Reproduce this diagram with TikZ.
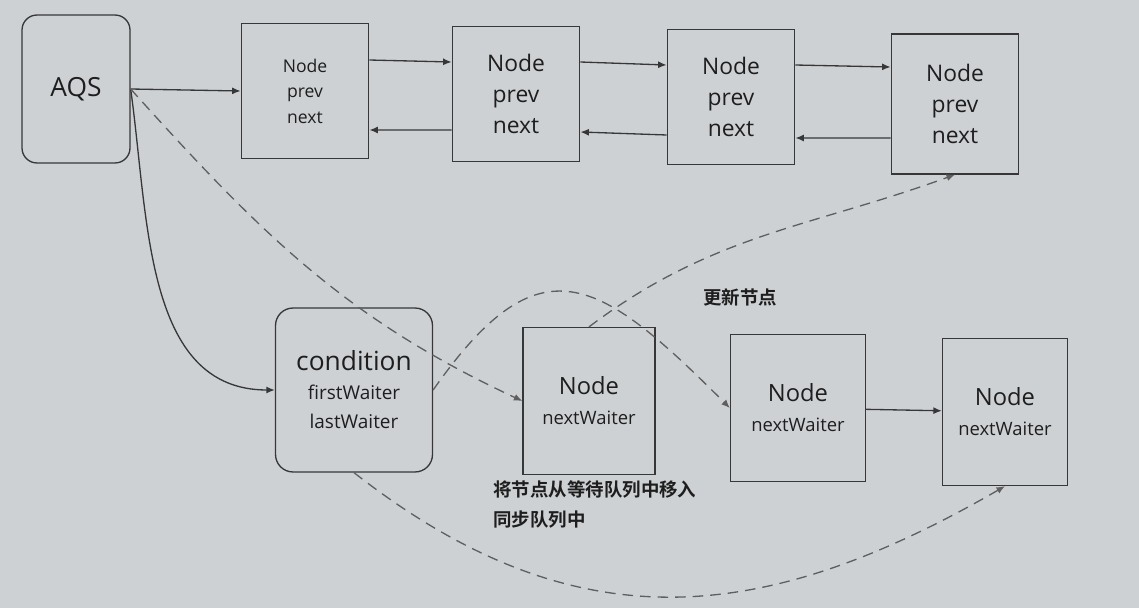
\documentclass[tikz,border=0pt]{standalone}
\usepackage{fontspec}
\setmainfont{Open Sans}
\newfontfamily\cjk[BoldFont={Noto Sans CJK SC Bold}]{Noto Sans CJK SC}
\usetikzlibrary{positioning, arrows.meta, calc}

\definecolor{bgcol}{RGB}{206,209,212}
\definecolor{linecol}{RGB}{55,55,55}
\definecolor{dashcol}{RGB}{95,95,95}
\definecolor{txtcol}{RGB}{30,30,30}

\begin{document}
\begin{tikzpicture}[
    x=0.02cm, y=0.02cm,
    >={Latex[length=1.7mm, width=1.4mm]},
    line width=0.75pt,
    headbox/.style={draw=linecol, rounded corners=3mm, minimum width=2.16cm, minimum height=2.96cm, align=center, text=txtcol, font=\fontsize{15}{18}\selectfont},
    qbox/.style={draw=linecol, minimum width=2.55cm, minimum height=2.7cm, align=center, text=txtcol, inner sep=2pt},
    condbox/.style={draw=linecol, rounded corners=3.5mm, minimum width=3.14cm, minimum height=3.28cm, align=center, text=txtcol, font=\fontsize{10.8}{16.5}\selectfont},
    wbox/.style={draw=linecol, minimum width=2.64cm, minimum height=2.94cm, align=center, text=txtcol, font=\fontsize{10.5}{17}\selectfont},
    note/.style={text=txtcol, font=\cjk\bfseries\fontsize{10.5}{17}\selectfont, inner sep=1pt},
    dashedge/.style={draw=dashcol, dash pattern=on 6pt off 4pt}
]

% ================= Background =================
\fill[bgcol] (0,0) rectangle (1139,-608);
\useasboundingbox (0,0) rectangle (1139,-608);

% ================= Nodes =================

% Head and the synchronisation queue
\node[headbox] (aqs) at (76,-89) {AQS};
\node[qbox, font=\fontsize{10}{14.5}\selectfont] (n1) at (305,-91) {Node\\prev\\next};
\node[qbox, font=\fontsize{13}{17.5}\selectfont] (n2) at (516,-94) {Node\\prev\\next};
\node[qbox, font=\fontsize{13}{17.5}\selectfont] (n3) at (731,-97) {Node\\prev\\next};
\node[qbox, font=\fontsize{13}{17.5}\selectfont, minimum height=2.8cm] (n4) at (955,-104) {Node\\prev\\next};

% Condition and the waiting queue
\node[condbox] (cond) at (354,-390) {{\fontsize{15}{18}\selectfont condition}\\firstWaiter\\lastWaiter};
\node[wbox] (w1) at (589,-401) {{\fontsize{13.5}{16}\selectfont Node}\\nextWaiter};
\node[wbox, minimum width=2.7cm] (w2) at (798,-408) {{\fontsize{13.5}{16}\selectfont Node}\\nextWaiter};
\node[wbox, minimum width=2.5cm] (w3) at (1005,-412) {{\fontsize{13.5}{16}\selectfont Node}\\nextWaiter};

% ================= Labels =================

\node[note] (upd) at (740,-297) {更新节点};
\node[note, anchor=north west, align=left] (move) at (491,-478) {将节点从等待队列中移入\\同步队列中};

% ================= Edges =================

% AQS to head of queue
\draw[->, draw=linecol] (aqs.east) -- (n1.west);

% next / prev links
\draw[->, draw=linecol] ([yshift=0.62cm]n1.east) -- ([yshift=0.64cm]n2.west);
\draw[->, draw=linecol] ([yshift=-0.72cm]n2.west) -- ([yshift=-0.78cm]n1.east);
\draw[->, draw=linecol] ([yshift=0.64cm]n2.east) -- ([yshift=0.64cm]n3.west);
\draw[->, draw=linecol] ([yshift=-0.76cm]n3.west) -- ([yshift=-0.76cm]n2.east);
\draw[->, draw=linecol] ([yshift=0.64cm]n3.east) -- ([yshift=0.74cm]n4.west);
\draw[->, draw=linecol] ([yshift=-0.68cm]n4.west) -- ([yshift=-0.82cm]n3.east);

% AQS to condition
\draw[->, draw=linecol] (aqs.east) to[out=-82, in=180] (cond.west);

% waiting queue link
\draw[->, draw=linecol] (w2) -- (w3);

% moving nodes around
\draw[dashedge, ->] (aqs.east) to[out=-48, in=155] (w1.west);
\draw[dashedge, ->] (cond.east) to[out=55, in=135, looseness=1.6] (w2.west);
\draw[dashedge, ->] (w1.north) to[out=37, in=-160] (n4.south);
\draw[dashedge, ->] (cond.south) to[out=-38, in=-150, looseness=1.1] (w3.south);

\end{tikzpicture}
\end{document}
